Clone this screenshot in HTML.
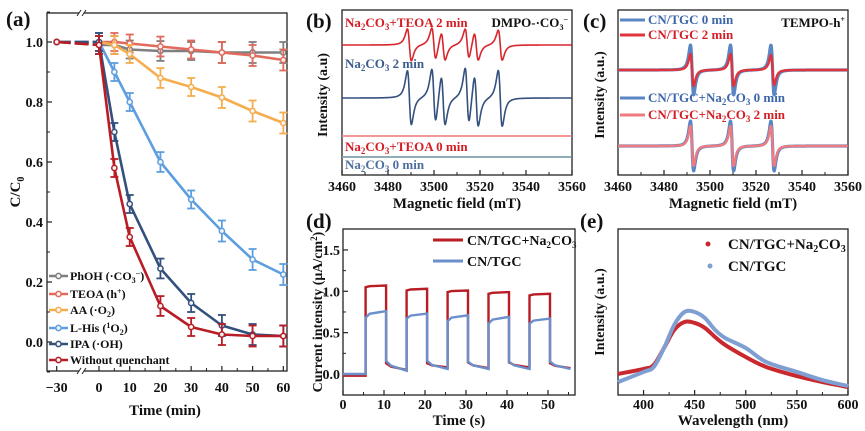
<!DOCTYPE html>
<html><head><meta charset="utf-8">
<style>
html,body{margin:0;padding:0;background:#fff;}
svg{display:block;font-family:"Liberation Serif",serif;font-weight:bold;}
text{fill:#111;}
</style></head>
<body>
<svg id="fig" width="865" height="431" viewBox="0 0 865 431" xmlns="http://www.w3.org/2000/svg">
<text x="6" y="26" font-size="21">(a)</text>
<text x="306" y="28" font-size="21">(b)</text>
<text x="583" y="28" font-size="21">(c)</text>
<text x="306" y="228" font-size="21">(d)</text>
<text x="580" y="228" font-size="21">(e)</text>

<text transform="translate(20,192) rotate(-90)" text-anchor="middle" font-size="15">C/C<tspan font-size="10" dy="4">0</tspan></text>
<text x="165" y="415" text-anchor="middle" font-size="15">Time (min)</text>
<text transform="translate(327,95) rotate(-90)" text-anchor="middle" font-size="14">Intensity (a.u)</text>
<text x="457" y="208" text-anchor="middle" font-size="15">Magnetic field (mT)</text>
<text transform="translate(604,95) rotate(-90)" text-anchor="middle" font-size="14">Intensity (a.u.)</text>
<text x="733" y="208" text-anchor="middle" font-size="15">Magnetic field (mT)</text>
<text transform="translate(322,312) rotate(-90)" text-anchor="middle" font-size="14">Current intensity (μA/cm<tspan font-size="9" dy="-5">2</tspan><tspan dy="5">)</tspan></text>
<text x="459" y="425" text-anchor="middle" font-size="15">Time (s)</text>
<text transform="translate(604,312) rotate(-90)" text-anchor="middle" font-size="14">Intensity (a.u.)</text>
<text x="733" y="425" text-anchor="middle" font-size="15">Wavelength (nm)</text>

<text x="345" y="27" font-size="13" style="fill:#d21f26">Na<tspan font-size="9" dy="3">2</tspan><tspan dy="-3">CO</tspan><tspan font-size="9" dy="3">3</tspan><tspan dy="-3">+TEOA 2 min</tspan></text>
<text x="568" y="27" font-size="13" text-anchor="end">DMPO-·CO<tspan font-size="8" dy="3">3</tspan><tspan font-size="8" dy="-8">−</tspan></text>
<text x="345" y="68" font-size="13" style="fill:#3b5c8e">Na<tspan font-size="9" dy="3">2</tspan><tspan dy="-3">CO</tspan><tspan font-size="9" dy="3">3</tspan><tspan dy="-3"> 2 min</tspan></text>
<text x="345" y="151" font-size="13" style="fill:#d21f26">Na<tspan font-size="9" dy="3">2</tspan><tspan dy="-3">CO</tspan><tspan font-size="9" dy="3">3</tspan><tspan dy="-3">+TEOA 0 min</tspan></text>
<text x="345" y="169" font-size="13" style="fill:#4e6f9e">Na<tspan font-size="9" dy="3">2</tspan><tspan dy="-3">CO</tspan><tspan font-size="9" dy="3">3</tspan><tspan dy="-3"> 0 min</tspan></text>

<g>
<line x1="620" y1="20" x2="645" y2="20" stroke="#5b86c5" stroke-width="3"/>
<text x="648" y="24" font-size="13" style="fill:#3d66a8">CN/TGC 0 min</text>
<line x1="620" y1="35" x2="645" y2="35" stroke="#e0343c" stroke-width="3"/>
<text x="648" y="39" font-size="13" style="fill:#d21f26">CN/TGC 2 min</text>
<line x1="620" y1="98" x2="645" y2="98" stroke="#5b86c5" stroke-width="3"/>
<text x="648" y="102" font-size="13" style="fill:#3d66a8">CN/TGC+Na<tspan font-size="9" dy="3">2</tspan><tspan dy="-3">CO</tspan><tspan font-size="9" dy="3">3</tspan><tspan dy="-3"> 0 min</tspan></text>
<line x1="620" y1="115" x2="645" y2="115" stroke="#ee7b80" stroke-width="3"/>
<text x="648" y="119" font-size="13" style="fill:#d21f26">CN/TGC+Na<tspan font-size="9" dy="3">2</tspan><tspan dy="-3">CO</tspan><tspan font-size="9" dy="3">3</tspan><tspan dy="-3"> 2 min</tspan></text>
<text x="845" y="27" font-size="13" text-anchor="end">TEMPO-h<tspan font-size="8" dy="-5">+</tspan></text>
</g>

<g>
<line x1="433" y1="240" x2="463" y2="240" stroke="#b81c24" stroke-width="3"/>
<text x="467" y="245" font-size="14">CN/TGC+Na<tspan font-size="9" dy="3">2</tspan><tspan dy="-3">CO</tspan><tspan font-size="9" dy="3">3</tspan></text>
<line x1="433" y1="261" x2="463" y2="261" stroke="#6a8fcb" stroke-width="3"/>
<text x="467" y="266" font-size="14">CN/TGC</text>
</g>
<g>
<circle cx="708" cy="244" r="2.5" fill="#c8282e"/>
<text x="728" y="249" font-size="15">CN/TGC+Na<tspan font-size="10" dy="3">2</tspan><tspan dy="-3">CO</tspan><tspan font-size="10" dy="3">3</tspan></text>
<circle cx="710" cy="266" r="2.5" fill="#7f9fd3"/>
<text x="728" y="271" font-size="15">CN/TGC</text>
</g>

<g font-size="12">
<text x="70" y="280">PhOH (·CO<tspan font-size="8" dy="3">3</tspan><tspan font-size="8" dy="-7">−</tspan><tspan dy="4">)</tspan></text>
<text x="70" y="298">TEOA (h<tspan font-size="8" dy="-4">+</tspan><tspan dy="4">)</tspan></text>
<text x="70" y="314">AA (·O<tspan font-size="8" dy="3">2</tspan><tspan dy="-3">)</tspan></text>
<text x="70" y="332">L-His (<tspan font-size="8" dy="-4">1</tspan><tspan dy="4">O</tspan><tspan font-size="8" dy="3">2</tspan><tspan dy="-3">)</tspan></text>
<text x="70" y="348">IPA (·OH)</text>
<text x="70" y="364">Without quenchant</text>
</g>
<g id="marks"></g>
</svg>
<script>
const timesA = [-30, 0, 5, 10, 20, 30, 40, 50, 60];
const phoh = [1.0, 0.99, 0.99, 0.975, 0.97, 0.97, 0.965, 0.965, 0.965];
const teoa = [1.0, 1.0, 1.0, 0.995, 0.985, 0.975, 0.965, 0.955, 0.94];
const aa   = [1.0, 1.0, 0.99, 0.96, 0.88, 0.85, 0.815, 0.77, 0.73];
const lhis = [1.0, 1.0, 0.9, 0.8, 0.6, 0.475, 0.37, 0.275, 0.225];
const ipa  = [1.0, 1.0, 0.7, 0.46, 0.245, 0.13, 0.055, 0.025, 0.02];
const noq  = [1.0, 0.99, 0.58, 0.35, 0.12, 0.05, 0.025, 0.02, 0.02];
const errA = [0, 0.03, 0.03, 0.03, 0.033, 0.03, 0.035, 0.035, 0.035];
const namesA = ['phoh','teoa','aa','l-his','ipa','without-quenchant'];
const colorsA = ['#7f7f7f','#e26a5c','#f6ad4e','#5d9ee0','#33507e','#b81c24'];
const xTicksA = [-30, 0, 10, 20, 30, 40, 50, 60];
const yTicksA = [0.0, 0.2, 0.4, 0.6, 0.8, 1.0];

const peaksB = [3489.3, 3499.9, 3504.0, 3514.4, 3518.4, 3528.8];
const ampRed2 = [16, 16, 14, 15, 14, 15];
const ampBlue2 = [27, 27, 25, 28, 26, 28];
const basesB = [45, 98, 136, 157];
const xTicksEPR = [3460, 3480, 3500, 3520, 3540, 3560];

const peaksC = [3492.2, 3509.6, 3527.2];
const ampC_blue0 = [25, 25, 25];
const ampC_red2 = [16, 16, 15];
const ampC_blue0b = [25, 25, 25];
const ampC_pink2 = [20, 20, 20];
const basesC = [70, 146];

const onStarts = [5.5, 15.5, 25.5, 35.5, 45.5];
const onDur = 5;
const redOnA = [1.05, 1.01, 0.99, 0.97, 0.95];
const redOnB = [1.07, 1.03, 1.01, 0.99, 0.97];
const blueOnA = [0.68, 0.67, 0.64, 0.61, 0.61];
const blueOnB = [0.76, 0.73, 0.71, 0.69, 0.67];
const redOffA = [0.13, 0.13, 0.14, 0.14, 0.13];
const redOffB = [0.05, 0.08, 0.07, 0.08, 0.07];
const blueOffA = [0.16, 0.16, 0.15, 0.15, 0.15];
const blueOffB = [0.04, 0.06, 0.06, 0.06, 0.06];
const darkRed0 = -0.02, darkBlue0 = 0.0;
const xTicksD = [0, 10, 20, 30, 40, 50];
const yTicksD = [0.0, 0.5, 1.0, 1.5];

const wl = [375, 400, 410, 420, 430, 440, 450, 460, 470, 480, 500, 520, 550, 575, 600];
const plRed  = [.127,.157,.181,.283,.392,.440,.434,.404,.349,.301,.229,.169,.114,.078,.048];
const plBlue = [.078,.139,.169,.283,.422,.500,.500,.464,.392,.343,.283,.199,.139,.090,.054];
const xTicksE = [400, 450, 500, 550, 600];

const NS = 'http://www.w3.org/2000/svg';
const root = document.getElementById('marks');
function el(tag, attrs, parent) {
  const e = document.createElementNS(NS, tag);
  for (const k in attrs) e.setAttribute(k, attrs[k]);
  (parent || root).appendChild(e);
  return e;
}
function txt(x, y, s, size, anchor, parent) {
  const t = el('text', {x: x, y: y, 'font-size': size, 'text-anchor': anchor || 'middle'}, parent);
  t.textContent = s;
  return t;
}
function frame(l, t, r, b, name) {
  const f = el('rect', {x: l, y: t, width: r - l, height: b - t, fill: 'none', stroke: '#222', 'stroke-width': 1.3});
  
  
  return f;
}
function pathD(pts) { return pts.map((p, i) => (i ? 'L' : 'M') + p[0].toFixed(1) + ',' + p[1].toFixed(1)).join(''); }

(function () {
  const L = 47, R = 287, T = 13, B = 371;
  const xA = t => t >= 0 ? 99 + t * 3.072 : 99 + (t / 30) * 42.3;
  const yA = v => 342 - v * 300;
  frame(L, T, R, B, 'plot-frame-a');
  const g = el('g', {});
  
  
  xTicksA.forEach(t => {
    el('line', {x1: xA(t), y1: B, x2: xA(t), y2: B - 5, stroke: '#222', 'stroke-width': 1.2}, g);
    txt(xA(t), 392, t < 0 ? '−' + Math.abs(t) : String(t), 14, 'middle', g);
  });
  [5, 15, 25, 35, 45, 55].forEach(t => el('line', {x1: xA(t), y1: B, x2: xA(t), y2: B - 3, stroke: '#222'}, g));
  yTicksA.forEach(v => {
    el('line', {x1: L, y1: yA(v), x2: L + 5, y2: yA(v), stroke: '#222', 'stroke-width': 1.2}, g);
    txt(L - 4, yA(v) + 5, v.toFixed(1), 14, 'end', g);
  });
  [-0.1, 0.1, 0.3, 0.5, 0.7, 0.9, 1.1].forEach(v => el('line', {x1: L, y1: yA(v), x2: L + 3, y2: yA(v), stroke: '#222'}, g));
  [T, B].forEach(yy => {
    el('rect', {x: 79, y: yy - 3, width: 5, height: 6, fill: '#fff'}, g);
    el('line', {x1: 77, y1: yy + 3, x2: 81, y2: yy - 3, stroke: '#222'}, g);
    el('line', {x1: 82, y1: yy + 3, x2: 86, y2: yy - 3, stroke: '#222'}, g);
  });
  const series = [phoh, teoa, aa, lhis, ipa, noq];
  const legY = [276, 294, 310, 328, 344, 360];
  series.forEach((s, k) => {
    const c = colorsA[k];
    const sg = el('g', {});
    
    
    const pts = timesA.map((t, i) => [xA(t), yA(s[i])]);
    el('path', {d: pathD(pts.slice(1)), fill: 'none', stroke: c, 'stroke-width': 2.6, 'stroke-linejoin': 'round'}, sg);
    el('line', {x1: pts[0][0], y1: pts[0][1], x2: pts[1][0], y2: pts[1][1], stroke: c, 'stroke-width': 2.6, 'stroke-dasharray': '14,4'}, sg);
    timesA.forEach((t, i) => {
      const e = errA[i];
      if (e > 0) {
        const x = xA(t), y1 = yA(s[i] + e), y2 = yA(s[i] - e);
        el('line', {x1: x, y1: y1, x2: x, y2: y2, stroke: c, 'stroke-width': 1.8}, sg);
        el('line', {x1: x - 4, y1: y1, x2: x + 4, y2: y1, stroke: c, 'stroke-width': 1.8}, sg);
        el('line', {x1: x - 4, y1: y2, x2: x + 4, y2: y2, stroke: c, 'stroke-width': 1.8}, sg);
      }
      const m = el('circle', {cx: xA(t), cy: yA(s[i]), r: 2.6, fill: '#f4f4f4', stroke: c, 'stroke-width': 1.5}, sg);
      
      
    });
    el('line', {x1: 49, y1: legY[k], x2: 68, y2: legY[k], stroke: c, 'stroke-width': 2.6}, sg);
    el('circle', {cx: 58.5, cy: legY[k], r: 2.6, fill: '#f4f4f4', stroke: c, 'stroke-width': 1.5}, sg);
  });
})();

function derivShape(f, centers, amps, w) {
  let s = 0;
  for (let i = 0; i < centers.length; i++) {
    const u = (f - centers[i]) / w;
    s += amps[i] * (-2 * u / Math.pow(1 + u * u, 2)) / 0.6495;
  }
  return s;
}
function eprPanel(L, R, T, B, name) {
  frame(L, T, R, B, 'plot-frame-' + name);
  const x = f => L + (f - 3460) / 100 * (R - L);
  const g = el('g', {});
  
  
  xTicksEPR.forEach(f => {
    el('line', {x1: x(f), y1: B, x2: x(f), y2: B - 5, stroke: '#222', 'stroke-width': 1.2}, g);
    txt(x(f), 191, String(f), 14, 'middle', g);
  });
  [3470, 3490, 3510, 3530, 3550].forEach(f => el('line', {x1: x(f), y1: B, x2: x(f), y2: B - 3, stroke: '#222'}, g));
  return x;
}
function spectrum(x, base, centers, amps, w, color, width, name) {
  const pts = [];
  for (let f = 3460; f <= 3560; f += 0.15) pts.push([x(f), base - derivShape(f, centers, amps, w)]);
  const p = el('path', {d: pathD(pts), fill: 'none', stroke: color, 'stroke-width': width, 'stroke-linejoin': 'round'});
  
  
}

(function () {
  const x = eprPanel(342, 572, 10, 175, 'b');
  const zero = [0, 0, 0, 0, 0, 0];
  spectrum(x, basesB[0], peaksB, ampRed2, 1.5, '#d8262d', 1.6, 'spectrum-na2co3-teoa-2min');
  spectrum(x, basesB[1], peaksB, ampBlue2, 1.5, '#34507e', 1.6, 'spectrum-na2co3-2min');
  spectrum(x, basesB[2], peaksB, zero, 1.5, '#f08a8a', 1.8, 'spectrum-na2co3-teoa-0min');
  spectrum(x, basesB[3], peaksB, zero, 1.5, '#7fa2ad', 1.8, 'spectrum-na2co3-0min');
})();

(function () {
  const x = eprPanel(618, 848, 10, 175, 'c');
  spectrum(x, basesC[0], peaksC, ampC_blue0, 1.2, '#5b86c5', 3.2, 'spectrum-cn-tgc-0min');
  spectrum(x, basesC[0], peaksC, ampC_red2, 1.2, '#e0343c', 2.4, 'spectrum-cn-tgc-2min');
  spectrum(x, basesC[1], peaksC, ampC_blue0b, 1.2, '#5b86c5', 3.2, 'spectrum-cn-tgc-na2co3-0min');
  spectrum(x, basesC[1], peaksC, ampC_pink2, 1.2, '#ee7b80', 2.4, 'spectrum-cn-tgc-na2co3-2min');
})();

(function () {
  const L = 343, R = 575, T = 229, B = 395;
  const x = t => L + t * 4.1;
  const y = v => 374 - v * 82.7;
  frame(L, T, R, B, 'plot-frame-d');
  const g = el('g', {});
  
  
  xTicksD.forEach(t => {
    el('line', {x1: x(t), y1: B, x2: x(t), y2: B - 5, stroke: '#222', 'stroke-width': 1.2}, g);
    txt(x(t), 409, String(t), 14, 'middle', g);
  });
  [5, 15, 25, 35, 45, 55].forEach(t => el('line', {x1: x(t), y1: B, x2: x(t), y2: B - 3, stroke: '#222'}, g));
  yTicksD.forEach(v => {
    el('line', {x1: L, y1: y(v), x2: L + 5, y2: y(v), stroke: '#222', 'stroke-width': 1.2}, g);
    txt(L - 3, y(v) + 5, v.toFixed(1), 14, 'end', g);
  });
  [0.25, 0.75, 1.25].forEach(v => el('line', {x1: L, y1: y(v), x2: L + 3, y2: y(v), stroke: '#222'}, g));
  function build(dark0, onA, onB, offA, offB) {
    const pts = [[0, dark0], [onStarts[0], dark0]];
    onStarts.forEach((s, i) => {
      const e = s + onDur;
      pts.push([s, onA[i]], [s + 1, onA[i] + (onB[i] - onA[i]) * 0.6], [e, onB[i]]);
      const nextOn = i + 1 < onStarts.length ? onStarts[i + 1] : 55.5;
      pts.push([e, offA[i]], [e + 1.2, offA[i] - (offA[i] - offB[i]) * 0.5], [nextOn, offB[i]]);
    });
    return pts.map(p => [x(p[0]), y(p[1])]);
  }
  const pr = el('path', {d: pathD(build(darkRed0, redOnA, redOnB, redOffA, redOffB)), fill: 'none', stroke: '#b81c24', 'stroke-width': 2.4});
  
  
  const pb = el('path', {d: pathD(build(darkBlue0, blueOnA, blueOnB, blueOffA, blueOffB)), fill: 'none', stroke: '#6a8fcb', 'stroke-width': 2.4});
  
  
})();

(function () {
  const L = 618, R = 848, T = 229, B = 395;
  const x = w => L + (w - 375) * (R - L) / 225;
  const y = v => B - v * 166;
  frame(L, T, R, B, 'plot-frame-e');
  const g = el('g', {});
  
  
  xTicksE.forEach(w => {
    el('line', {x1: x(w), y1: B, x2: x(w), y2: B - 5, stroke: '#222', 'stroke-width': 1.2}, g);
    txt(x(w), 409, String(w), 14, 'middle', g);
  });
  [425, 475, 525, 575].forEach(w => el('line', {x1: x(w), y1: B, x2: x(w), y2: B - 3, stroke: '#222'}, g));
  function smooth(vals) {
    const p = wl.map((w, i) => [x(w), y(vals[i])]);
    let d = 'M' + p[0][0] + ',' + p[0][1];
    for (let i = 0; i < p.length - 1; i++) {
      const p0 = p[i - 1] || p[i], p1 = p[i], p2 = p[i + 1], p3 = p[i + 2] || p2;
      const c1 = [p1[0] + (p2[0] - p0[0]) / 6, p1[1] + (p2[1] - p0[1]) / 6];
      const c2 = [p2[0] - (p3[0] - p1[0]) / 6, p2[1] - (p3[1] - p1[1]) / 6];
      d += 'C' + c1.join(',') + ' ' + c2.join(',') + ' ' + p2.join(',');
    }
    return d;
  }
  const er = el('path', {d: smooth(plRed), fill: 'none', stroke: '#c8282e', 'stroke-width': 4});
  
  
  const eb = el('path', {d: smooth(plBlue), fill: 'none', stroke: '#7f9fd3', 'stroke-width': 4});
  
  
})();
</script>
</body></html>
